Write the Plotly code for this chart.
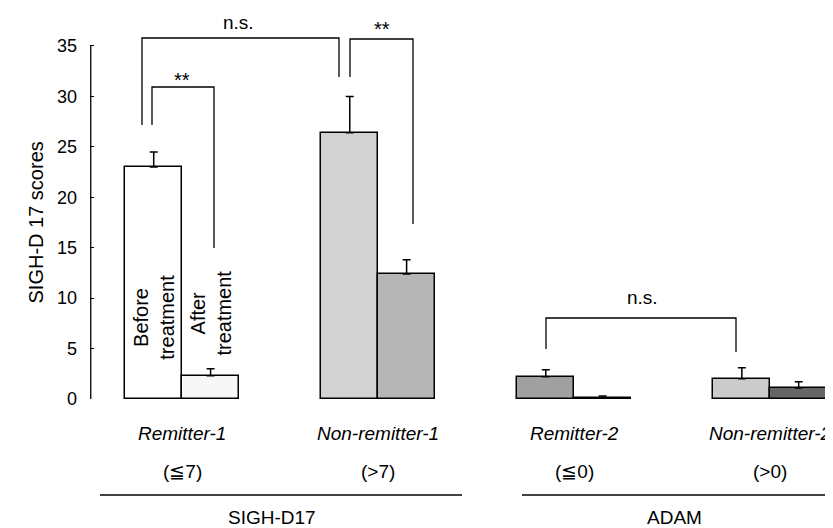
import plotly.graph_objects as go

# ---- data ----
groups = ["Remitter-1", "Non-remitter-1", "Remitter-2", "Non-remitter-2"]
thresholds = ["(≦7)", "(&gt;7)", "(≦0)", "(&gt;0)"]
scales = ["SIGH-D17", "ADAM"]
before = [23.0, 26.4, 2.2, 2.0]
before_err = [1.5, 3.6, 0.7, 1.1]
after = [2.3, 12.4, 0.1, 1.1]
after_err = [0.7, 1.4, 0.2, 0.6]
before_colors = ["#ffffff", "#d2d2d2", "#a0a0a0", "#cbcbcb"]
after_colors = ["#f7f7f7", "#b6b6b6", "#808080", "#666666"]
yticks = [0, 5, 10, 15, 20, 25, 30, 35]

centers = [1, 2, 3, 4]
W = 0.29
FONT = "Liberation Sans, Arial, Helvetica, sans-serif"
FS = 19

# page has an 8px body margin: figure coords = page coords - 8
OFF = 8
FIG_W, FIG_H = 833 - OFF, 528 - OFF
LEFT = 90                      # page x of y axis
ZERO = 399                     # page y of value 0
PXV = 10.086                   # px per unit
XMIN, XMAX = 0.53, 4.32
PLOT_W = FIG_W - (LEFT - OFF)
PLOT_H = ZERO - OFF
PXU = PLOT_W / (XMAX - XMIN)
YTOP = PLOT_H / PXV

fig = go.Figure()
fig.add_trace(go.Bar(
    x=[c - W / 2 for c in centers], y=before, width=W,
    marker=dict(color=before_colors, line=dict(color="black", width=1.5)),
    error_y=dict(type="data", symmetric=False, array=before_err,
                 arrayminus=[0] * 4, color="black", thickness=1.5, width=4),
    showlegend=False, hoverinfo="skip"))
fig.add_trace(go.Bar(
    x=[c + W / 2 for c in centers], y=after, width=W,
    marker=dict(color=after_colors, line=dict(color="black", width=1.5)),
    error_y=dict(type="data", symmetric=False, array=after_err,
                 arrayminus=[0] * 4, color="black", thickness=1.5, width=4),
    showlegend=False, hoverinfo="skip"))


def px2x(px):
    return XMIN + (px - LEFT) / PXU


def py2y(py):
    return (ZERO - py) / PXV


def px2paper(px):
    return (px - LEFT) / PLOT_W


def py2paper(py):
    return (ZERO - py) / PLOT_H


shapes = []


def bracket(xl, xr, ytop, ylb, yrb):
    shapes.append(dict(type="path", xref="x", yref="y",
                       path=f"M {xl},{ylb} L {xl},{ytop} L {xr},{ytop} L {xr},{yrb}",
                       line=dict(color="black", width=1.3)))


# significance brackets
bracket(px2x(142), px2x(339), py2y(38), py2y(125), py2y(77))
bracket(px2x(152), px2x(214), py2y(87), py2y(125), py2y(248))
bracket(px2x(350), px2x(413), py2y(39), py2y(77), py2y(224))
bracket(px2x(546), px2x(736), py2y(318), py2y(349), py2y(352))

# y axis line (only up to 35)
shapes.append(dict(type="line", xref="paper", yref="y", x0=0.001, x1=0.001,
                   y0=0, y1=35, line=dict(color="black", width=1.3)))
# group underlines
for x0, x1 in [(100, 462), (522, 840)]:
    shapes.append(dict(type="line", xref="paper", yref="paper",
                       x0=px2paper(x0), x1=px2paper(x1),
                       y0=py2paper(495), y1=py2paper(495),
                       line=dict(color="black", width=1.3)))

ann = []


def text(x, y, s, size=FS, italic=False, angle=0, xref="x", yref="y"):
    ann.append(dict(x=x, y=y, xref=xref, yref=yref, text=s, showarrow=False,
                    textangle=angle, xanchor="center", yanchor="middle",
                    font=dict(family=FONT, size=size, color="black",
                              style="italic" if italic else "normal")))


text(px2x(238), py2y(22), "n.s.")
text(px2x(382), py2y(29), "**", size=20)
text(px2x(182), py2y(80), "**", size=20)
text(px2x(642), py2y(297), "n.s.")

for c, g, t in zip(centers, groups, thresholds):
    xp = px2paper(LEFT + (c - XMIN) * PXU)
    text(xp, py2paper(433), g, italic=True, xref="paper", yref="paper")
    text(xp, py2paper(471), t, xref="paper", yref="paper")
text(px2paper(272), py2paper(517), scales[0], xref="paper", yref="paper")
text(px2paper(674), py2paper(517), scales[1], xref="paper", yref="paper")

text(centers[0] - W / 2, py2y(317), "Before<br>treatment", size=20, angle=-90)
text(centers[0] + W / 2, py2y(313), "After<br>treatment", size=20, angle=-90)

text(px2paper(35), 17.5, "SIGH-D 17 scores", size=20, xref="paper", angle=-90)

fig.update_layout(
    width=FIG_W, height=FIG_H,
    margin=dict(l=LEFT - OFF, r=0, t=0, b=FIG_H - PLOT_H),
    paper_bgcolor="white", plot_bgcolor="white",
    bargap=0, shapes=shapes, annotations=ann,
    font=dict(family=FONT, size=FS, color="black"),
    xaxis=dict(range=[XMIN, XMAX], showgrid=False, zeroline=False,
               showline=False, showticklabels=False, ticks=""),
    yaxis=dict(range=[0, YTOP], showgrid=False, zeroline=False,
               showline=False, tickvals=yticks, ticks="inside", ticklen=4,
               tickwidth=1.3, tickcolor="black", ticklabelstandoff=12,
               tickfont=dict(family=FONT, size=18, color="black")),
)

fig.write_html("out.html")
